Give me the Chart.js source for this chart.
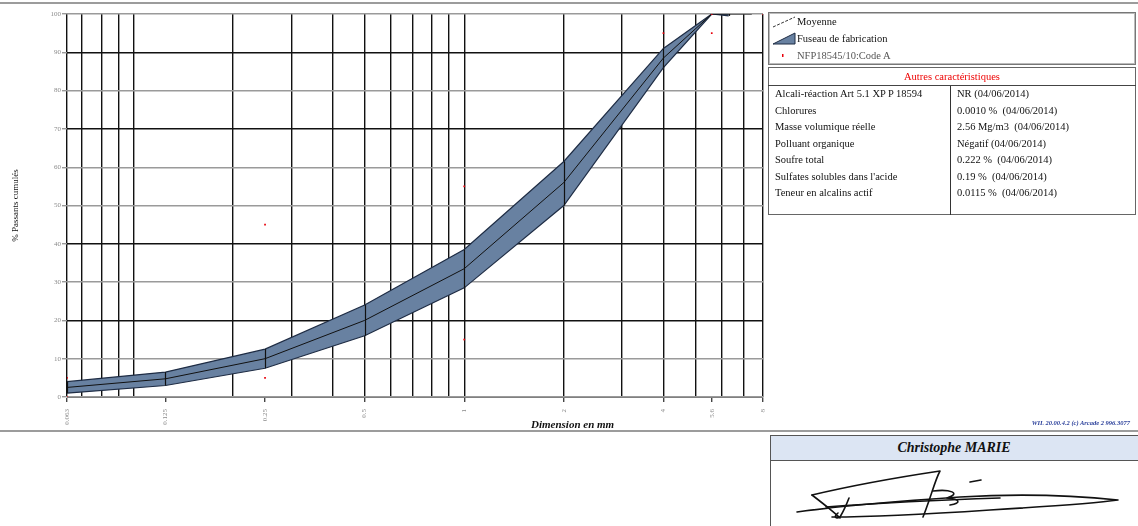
<!DOCTYPE html>
<html>
<head>
<meta charset="utf-8">
<script src="https://cdn.jsdelivr.net/npm/chart.js@4.4.1/dist/chart.umd.min.js"></script>
<style>
  html, body { margin: 0; padding: 0; background: #fff; width: 1138px; height: 526px; overflow: hidden; font-family: 'Liberation Serif', 'DejaVu Serif', serif; }
  #chartBox { position: absolute; left: 0; top: 0; width: 770px; height: 440px; }
  .rule { position: absolute; left: 0; width: 1138px; height: 2px; background: #9c9c9c; }
  #xTitle { position: absolute; left: 531px; top: 418px; font: italic bold 11px 'Liberation Serif', serif; color: #111; white-space: nowrap; }
  #legend { position: absolute; left: 768px; top: 12px; width: 366px; height: 51px; border: 1px solid #777; box-shadow: inset 0 0 0 1px #bbb; }
  .lg { position: absolute; left: 28px; font-size: 10.5px; color: #111; white-space: nowrap; line-height: 12px; }
  #specTable { position: absolute; left: 768px; top: 67px; width: 368px; border-collapse: collapse; font-size: 10.5px; color: #111; border: 1px solid #666; }
  #specTable td { padding: 0 0 0 6px; height: 16.5px; line-height: 14px; white-space: nowrap; vertical-align: middle; }
  #specTable tr.last td { height: 28px; vertical-align: top; padding-top: 1px; }
  #specTable td.k { width: 175px; border-right: 1px solid #333; }
  #specTable th { color: #e00; font-weight: normal; height: 15px; border-bottom: 1px solid #444; font-size: 10.5px; line-height: 14px; }
  #foot { position: absolute; right: 8px; top: 419px; font: italic bold 6.5px 'Liberation Serif', serif; color: #2a3f9a; white-space: nowrap; }
  #sigBox { position: absolute; left: 770px; top: 435px; width: 380px; height: 100px; border: 1px solid #555; }
  #sigHead { height: 24px; background: #dce5f3; border-bottom: 1px solid #555; text-align: center; font: italic bold 14px 'Liberation Serif', serif; line-height: 24px; color: #111; padding-right: 14px; }
  #sig { position: absolute; left: 0; top: 0; }
</style>
</head>
<body>
<div class="rule" style="top:2px"></div>
<div id="chartBox"><canvas id="grading" width="770" height="440"></canvas></div>
<div id="xTitle">Dimension en mm</div>

<div id="legend">
  <canvas id="lgIcons" width="30" height="51" style="position:absolute;left:0;top:0"></canvas>
  <div class="lg" style="top:3px">Moyenne</div>
  <div class="lg" style="top:20px">Fuseau de fabrication</div>
  <div class="lg" style="top:37px;color:#555">NFP18545/10:Code A</div>
</div>

<table id="specTable">
  <tr><th colspan="2">Autres caractéristiques</th></tr>
  <tr><td class="k">Alcali-réaction Art 5.1 XP P 18594</td><td>NR (04/06/2014)</td></tr>
  <tr><td class="k">Chlorures</td><td>0.0010 %&nbsp; (04/06/2014)</td></tr>
  <tr><td class="k">Masse volumique réelle</td><td>2.56 Mg/m3&nbsp; (04/06/2014)</td></tr>
  <tr><td class="k">Polluant organique</td><td>Négatif (04/06/2014)</td></tr>
  <tr><td class="k">Soufre total</td><td>0.222 %&nbsp; (04/06/2014)</td></tr>
  <tr><td class="k">Sulfates solubles dans l'acide</td><td>0.19 %&nbsp; (04/06/2014)</td></tr>
  <tr class="last"><td class="k">Teneur en alcalins actif</td><td>0.0115 %&nbsp; (04/06/2014)</td></tr>
</table>

<div id="foot">WIL 20.00.4.2 (c) Arcade 2 996.3077</div>
<div class="rule" style="top:430px"></div>

<div id="sigBox"><div id="sigHead">Christophe MARIE</div></div>
<svg id="sig" width="1138" height="526" viewBox="0 0 1138 526">
  <g fill="none" stroke="#111" stroke-width="1.6" stroke-linecap="round" stroke-linejoin="round">
    <path d="M797 512 C 840 506, 900 501, 960 497 C 1010 494, 1070 495, 1118 500 C 1090 504, 1040 507, 990 510 C 930 514, 870 517, 832 517"/>
    <path d="M812 495 C 850 486, 900 477, 940 471 C 935 480, 930 500, 923 517"/>
    <path d="M812 495 C 825 505, 835 513, 840 518"/>
    <path d="M849 498 C 846 506, 843 512, 840 517 C 836 519, 833 517, 838 513"/>
    <path d="M933 491 C 950 489, 962 493, 947 498 C 960 499, 962 503, 950 505"/>
    <path d="M970 482 L 981 480"/>
    <path d="M826 507 C 880 503, 940 500, 1000 498"/>
  </g>
</svg>

<script>
// Sieve openings (mm) and the manufacturing envelope (% passing)
const sieveSizes    = [0.063, 0.125, 0.25, 0.5, 1, 2, 4, 5.6, 6.3];
const envelopeUpper = [4, 6.5, 12.5, 24, 38.5, 61.5, 91, 100, 100];
const envelopeLower = [1, 3, 7.5, 16, 28.5, 50, 86, 100, 99.5];

// Average grading curve
const meanSizes   = [0.063, 0.125, 0.25, 0.5, 1, 2, 4, 5.6, 7.4];
const meanPassing = [2.5, 4.75, 10, 20, 33.5, 56, 88.5, 100, 100];

// NF P 18-545 art.10 code A limits
const specSizes   = [0.063, 0.063, 0.25, 0.25, 1, 1, 4, 5.6, 5.6, 8];
const specPassing = [0, 5, 5, 45, 15, 55, 95, 95, 100, 100];

// Axis ticks
const labelledSizes = [0.063, 0.125, 0.25, 0.5, 1, 2, 4, 5.6, 8];
const gridSizes     = [0.07, 0.08, 0.09, 0.1, 0.2, 0.3, 0.4, 0.5, 0.6, 0.7, 0.8, 0.9, 1, 2, 3, 4, 5, 6, 7, 8];
const percentTicks  = [0, 10, 20, 30, 40, 50, 60, 70, 80, 90, 100];
const strongRows    = [20, 40, 70, 90];

const toPoints = (xs, ys) => xs.map((x, i) => ({ x: x, y: ys[i] }));
const allSizeTicks = Array.from(new Set(labelledSizes.concat(gridSizes))).sort((a, b) => a - b);

const BAND_FILL = '#6881a1';
const BAND_EDGE = '#1e2c44';

// vertical bars marking the envelope width at each sieve
const envelopeBars = {
  id: 'envelopeBars',
  afterDatasetsDraw(chart) {
    const { ctx, scales: { x, y } } = chart;
    ctx.save();
    ctx.strokeStyle = '#111';
    ctx.lineWidth = 1.2;
    sieveSizes.forEach((s, i) => {
      if (envelopeUpper[i] === envelopeLower[i]) return;
      const px = Math.round(x.getPixelForValue(s)) + 0.5;
      ctx.beginPath();
      ctx.moveTo(px, y.getPixelForValue(envelopeUpper[i]));
      ctx.lineTo(px, y.getPixelForValue(envelopeLower[i]));
      ctx.stroke();
    });
    ctx.restore();
  }
};

new Chart(document.getElementById('grading'), {
  type: 'line',
  data: {
    datasets: [
      {
        label: 'NFP18545/10:Code A',
        type: 'scatter',
        data: toPoints(specSizes, specPassing),
        pointStyle: 'rect',
        pointRadius: 1.2,
        backgroundColor: '#e8000b',
        borderColor: '#e8000b',
        borderWidth: 0
      },
      {
        label: 'Moyenne',
        data: toPoints(meanSizes, meanPassing),
        borderColor: '#111',
        borderWidth: 1,
        pointRadius: 0,
        fill: false,
        tension: 0
      },
      {
        label: 'Fuseau bas',
        data: toPoints(sieveSizes, envelopeLower),
        borderColor: BAND_EDGE,
        borderWidth: 1.2,
        pointRadius: 0,
        fill: false,
        tension: 0
      },
      {
        label: 'Fuseau de fabrication',
        data: toPoints(sieveSizes, envelopeUpper),
        borderColor: BAND_EDGE,
        borderWidth: 1.2,
        pointRadius: 0,
        backgroundColor: BAND_FILL,
        fill: '-1',
        tension: 0
      }
    ]
  },
  options: {
    responsive: false,
    animation: false,
    devicePixelRatio: 1,
    layout: { padding: { top: 14, right: 7, left: 0, bottom: 0 } },
    plugins: {
      legend: { display: false },
      tooltip: { enabled: false },
      filler: { propagate: false }
    },
    scales: {
      x: {
        type: 'logarithmic',
        min: 0.063,
        max: 8,
        afterBuildTicks: (scale) => { scale.ticks = allSizeTicks.map(v => ({ value: v })); },
        afterFit: (scale) => { scale.height = 43; scale.paddingLeft = 0; scale.paddingRight = 0; },
        border: { display: true, color: '#808080', width: 1 },
        grid: {
          color: (c) => (c.tick && (gridSizes.includes(c.tick.value) || c.tick.value === 0.063)) ? '#111' : 'rgba(0,0,0,0)',
          tickColor: (c) => (c.tick && labelledSizes.includes(c.tick.value)) ? '#444' : 'rgba(0,0,0,0)',
          lineWidth: 1.4,
          drawTicks: true,
          tickLength: 5
        },
        ticks: {
          autoSkip: false,
          minRotation: 90,
          maxRotation: 90,
          padding: 7,
          color: '#8a8a8a',
          font: { family: "'Liberation Serif', serif", size: 7 },
          callback: (v) => labelledSizes.includes(v) ? String(v) : ''
        }
      },
      y: {
        type: 'linear',
        min: 0,
        max: 100,
        afterBuildTicks: (scale) => { scale.ticks = percentTicks.map(v => ({ value: v })); },
        afterFit: (scale) => { scale.width = 67; scale.paddingTop = 0; scale.paddingBottom = 0; },
        border: { display: false },
        grid: {
          color: (c) => (c.tick && strongRows.includes(c.tick.value)) ? '#111' : '#9a9a9a',
          tickColor: '#9a9a9a',
          lineWidth: 1.4,
          tickLength: 5
        },
        ticks: {
          padding: 1,
          color: '#8a8a8a',
          font: { family: "'Liberation Serif', serif", size: 7 }
        },
        title: {
          display: true,
          text: '% Passants cumulés',
          color: '#111',
          font: { family: "'Liberation Serif', serif", size: 9 },
          padding: { top: 10, bottom: 0 }
        }
      }
    }
  },
  plugins: [envelopeBars]
});

// legend symbols
(function () {
  const g = document.getElementById('lgIcons').getContext('2d');
  g.strokeStyle = '#333';
  g.lineWidth = 1;
  g.setLineDash([3, 1.5]);
  g.beginPath(); g.moveTo(4, 14); g.lineTo(26, 4); g.stroke();
  g.setLineDash([]);
  g.fillStyle = BAND_FILL;
  g.strokeStyle = BAND_EDGE;
  g.beginPath(); g.moveTo(4, 31); g.lineTo(26, 20); g.lineTo(26, 31); g.closePath(); g.fill(); g.stroke();
  g.fillStyle = '#e8000b';
  g.fillRect(13, 41, 1.5, 3);
})();
</script>
</body>
</html>
